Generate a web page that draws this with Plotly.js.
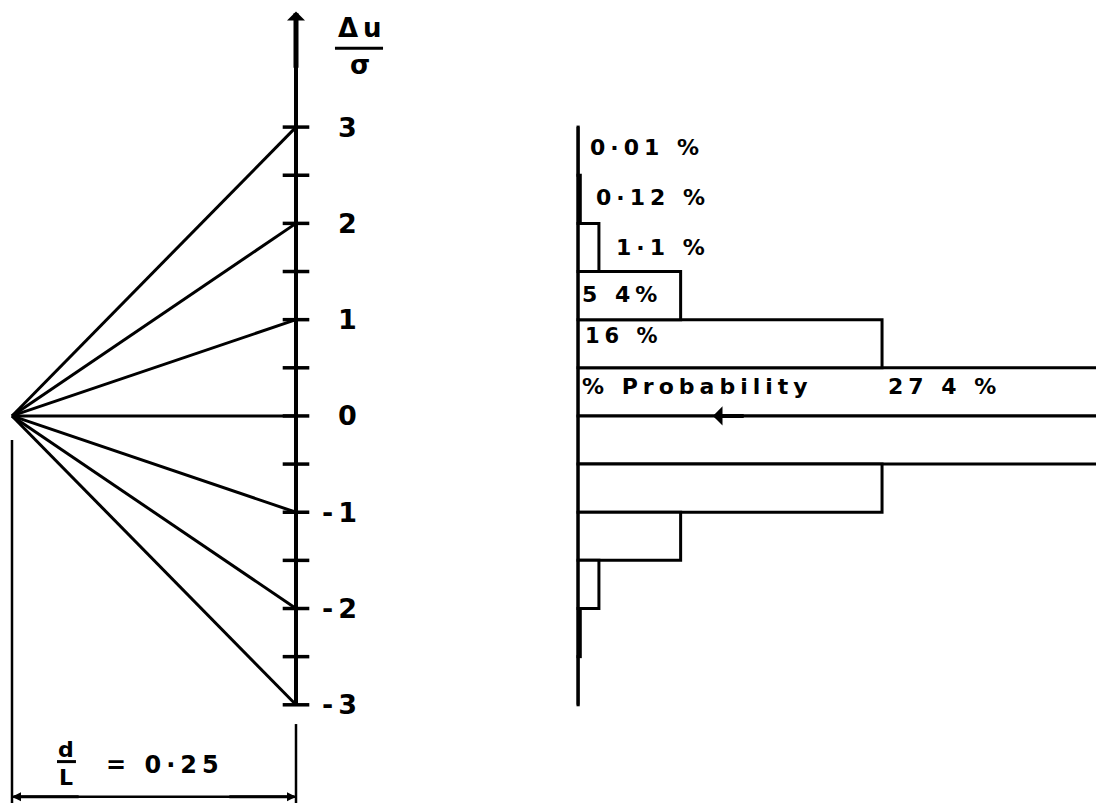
<!DOCTYPE html>
<html>
<head>
<meta charset="utf-8">
<script src="https://cdn.plot.ly/plotly-3.0.1.min.js"></script>
<style>
  html, body { margin: 0; padding: 0; background: #fff; }
  #chart { width: 1096px; height: 803px; }
  .annotation-text { letter-spacing: 5px; }
</style>
</head>
<body>
<div id="chart"></div>
<script>
// Standardised deviation levels (Δu/σ) reached at the section d/L
const sigmaLevels = [3, 2, 1, 0, -1, -2, -3];
const tickLevels = [3, 2.5, 2, 1.5, 1, 0.5, 0, -0.5, -1, -1.5, -2, -2.5, -3];
const tickLabels = ['3', '2', '1', '0', '-1', '-2', '-3'];
const dOverL = 0.25;

// Probability histogram: bins 0.5σ wide above the mean, mirrored below
const binLower = [0, 0.5, 1, 1.5, 2, 2.5];
const binWidth = 0.5;
const probability = [27.4, 16, 5.4, 1.1, 0.12, 0.01];
const probLabels = ['27 4 %', '16 %', '5 4%', '1·1 %', '0·12 %', '0·01 %'];

const INK = '#000';
const FONT = 'DejaVu Sans';

// --- fan of rays from the origin to each level ---
const fanX = [], fanY = [];
sigmaLevels.forEach(v => { fanX.push(0, dOverL, null); fanY.push(0, v, null); });

const fan = {
  type: 'scatter', mode: 'lines', x: fanX, y: fanY,
  line: { color: INK, width: 3 }, hoverinfo: 'skip', xaxis: 'x', yaxis: 'y'
};

const ticks = {
  type: 'scatter', mode: 'markers',
  x: tickLevels.map(() => dOverL), y: tickLevels,
  marker: { symbol: 'line-ew', size: 19, line: { color: INK, width: 3.5 } },
  hoverinfo: 'skip', xaxis: 'x', yaxis: 'y'
};

// --- histogram bars (upper half and mirrored lower half) ---
const centersUp = binLower.map(b => b + binWidth / 2);
const centersDown = centersUp.map(c => -c);
const bars = {
  type: 'bar', orientation: 'h',
  y: centersUp.concat(centersDown),
  x: probability.concat(probability),
  width: binWidth,
  marker: { color: '#fff', line: { color: INK, width: 3 } },
  hoverinfo: 'skip', xaxis: 'x2', yaxis: 'y'
};

const dimY = -3.956;

const shapes = [
  // main Δu/σ axis
  { type: 'line', xref: 'x', yref: 'y', x0: dOverL, x1: dOverL, y0: -3, y1: 3.9,
    line: { color: INK, width: 4 } },
  // histogram base axis
  { type: 'line', xref: 'x2', yref: 'y', x0: 0, x1: 0, y0: -3, y1: 3,
    line: { color: INK, width: 3 } },
  // dimension extension lines
  { type: 'line', xref: 'x', yref: 'y', x0: 0, x1: 0, y0: -0.25, y1: -4.2,
    line: { color: INK, width: 2.5 } },
  { type: 'line', xref: 'x', yref: 'y', x0: dOverL, x1: dOverL, y0: -3.2, y1: -4.2,
    line: { color: INK, width: 2.5 } },
  // dimension line
  { type: 'line', xref: 'x', yref: 'y', x0: 0, x1: dOverL, y0: dimY, y1: dimY,
    line: { color: INK, width: 2.5 } },
  // fraction bars
  { type: 'line', xref: 'x', yref: 'y', x0: 0.2843, x1: 0.3266, y0: 3.82, y1: 3.82,
    line: { color: INK, width: 3 } },
  { type: 'line', xref: 'x', yref: 'y', x0: 0.0396, x1: 0.0563, y0: -3.59, y1: -3.59,
    line: { color: INK, width: 3 } }
];

const txt = (size) => ({ family: FONT, size: size, color: INK, weight: 700 });

const annotations = [];

// axis arrow
annotations.push({
  xref: 'x', yref: 'y', axref: 'x', ayref: 'y',
  x: dOverL, y: 4.2, ax: dOverL, ay: 3.6, text: '',
  showarrow: true, arrowhead: 1, arrowsize: 0.6, arrowwidth: 5, arrowcolor: INK, standoff: 0
});

// axis labels at the integer levels
sigmaLevels.forEach((v, i) => {
  annotations.push({
    xref: 'x', yref: 'y', x: dOverL, y: v, xanchor: 'right', yanchor: 'middle',
    xshift: 68, text: tickLabels[i], showarrow: false, font: txt(27)
  });
});

// Δu / σ
annotations.push({ xref: 'x', yref: 'y', x: 0.3055, y: 4.03, xanchor: 'center', yanchor: 'middle',
  xshift: 3, text: 'Δu', showarrow: false, font: txt(26) });
annotations.push({ xref: 'x', yref: 'y', x: 0.3055, y: 3.64, xanchor: 'center', yanchor: 'middle',
  xshift: 3, text: 'σ', showarrow: false, font: txt(26) });

// d / L = 0·25
annotations.push({ xref: 'x', yref: 'y', x: 0.0475, y: -3.46, xanchor: 'center', yanchor: 'middle',
  xshift: 3, text: 'd', showarrow: false, font: txt(22) });
annotations.push({ xref: 'x', yref: 'y', x: 0.0475, y: -3.76, xanchor: 'center', yanchor: 'middle',
  xshift: 3, text: 'L', showarrow: false, font: txt(22) });
annotations.push({ xref: 'x', yref: 'y', x: 0.081, y: -3.63, xanchor: 'left', yanchor: 'middle',
  text: '= 0·25', showarrow: false, font: txt(24) });

// arrowheads at both ends of the dimension line
[[0, 0.06], [dOverL, dOverL - 0.06]].forEach(([tip, tail]) => {
  annotations.push({
    xref: 'x', yref: 'y', axref: 'x', ayref: 'y',
    x: tip, y: dimY, ax: tail, ay: dimY, text: '',
    showarrow: true, arrowhead: 2, arrowsize: 0.6, arrowwidth: 3, arrowcolor: INK, standoff: 0
  });
});

// histogram labels
const labelPos = [
  { x: 16.2, dy: 5 },   // 27 4 %
  { x: 0.25, dy: 8 },   // 16 %
  { x: 0.1, dy: 1 },    // 5 4%
  { x: 1.9, dy: 0 },    // 1·1 %
  { x: 0.85, dy: 2 },   // 0·12 %
  { x: 0.5, dy: 4 }     // 0·01 %
];
probLabels.forEach((t, i) => {
  annotations.push({
    xref: 'x2', yref: 'y', x: labelPos[i].x, y: centersUp[i], yshift: labelPos[i].dy,
    xanchor: 'left', yanchor: 'middle', text: t, showarrow: false,
    font: txt(i === 1 ? 21 : 22)
  });
});
annotations.push({
  xref: 'x2', yref: 'y', x: 0.1, y: centersUp[0], yshift: 5,
  xanchor: 'left', yanchor: 'middle', text: '% Probability', showarrow: false, font: txt(22)
});

// small arrow on the mean line
annotations.push({
  xref: 'x2', yref: 'y', axref: 'x2', ayref: 'y',
  x: 7.1, y: 0, ax: 8.8, ay: 0, text: '',
  showarrow: true, arrowhead: 1, arrowsize: 0.8, arrowwidth: 4, arrowcolor: INK, standoff: 0
});

const layout = {
  width: 1096, height: 803,
  margin: { l: 0, r: 0, t: 0, b: 0 },
  paper_bgcolor: '#fff', plot_bgcolor: '#fff',
  showlegend: false,
  xaxis: { range: [-0.01056, 0.9542], visible: false, fixedrange: true },
  xaxis2: { range: [-30.42, 27.26], overlaying: 'x', visible: false, fixedrange: true },
  yaxis: { range: [-4.02, 4.32], visible: false, fixedrange: true },
  shapes: shapes,
  annotations: annotations
};

Plotly.newPlot('chart', [bars, fan, ticks], layout, { staticPlot: true, displayModeBar: false });
</script>
</body>
</html>
